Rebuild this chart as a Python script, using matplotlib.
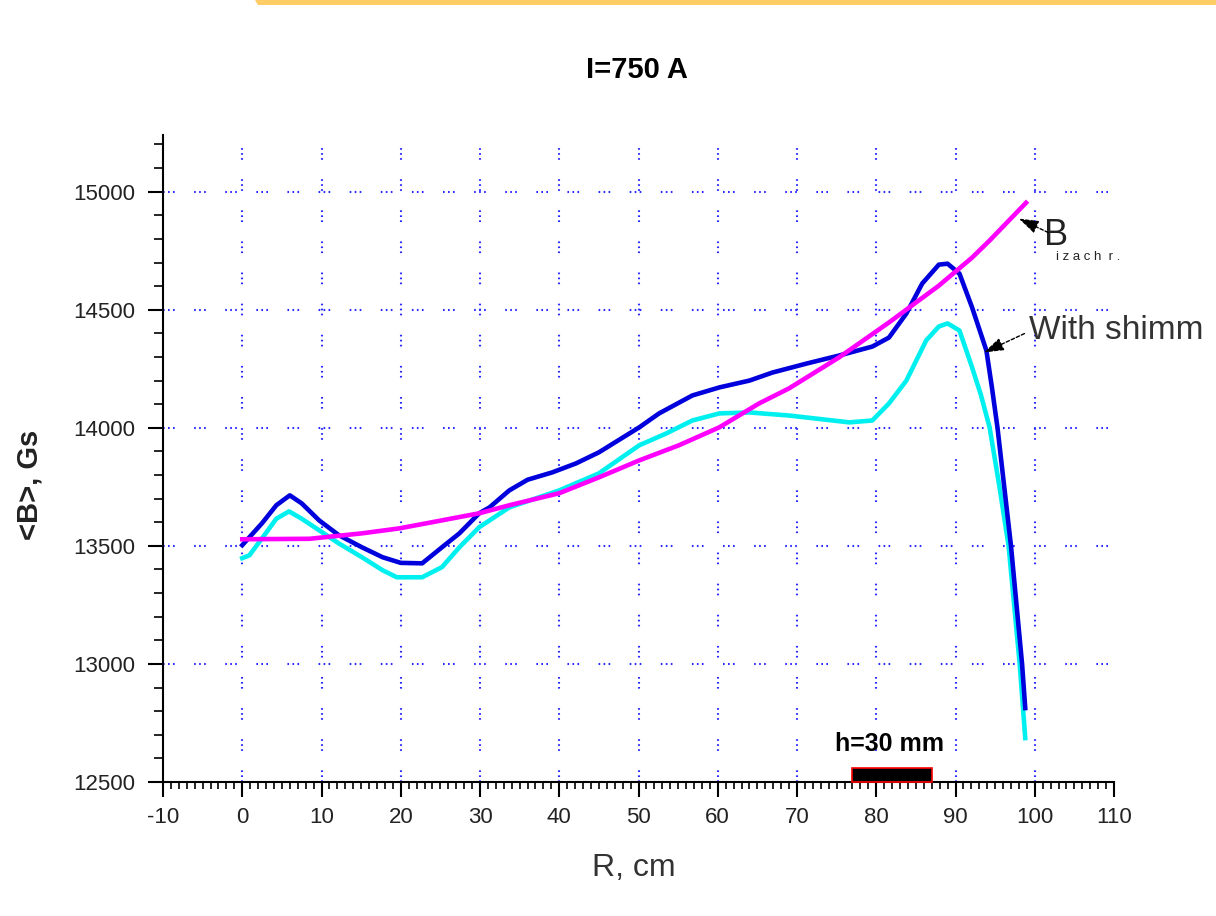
import numpy as np
import matplotlib
matplotlib.use('Agg')
import matplotlib.pyplot as plt
from matplotlib.patches import Rectangle, Polygon
from matplotlib.ticker import MultipleLocator

plt.rcParams['font.family'] = ['Liberation Sans', 'DejaVu Sans']
plt.rcParams['lines.scale_dashes'] = False

# blue curve - with shimm
r_shim = [0, 2.5, 4.3, 6, 7.5, 9.7, 12.2, 15.1, 17.7, 20, 22.7, 25.2, 27.4, 29.9, 31.2,
          33.7, 36, 39.1, 42.1, 45, 50.1, 52.6, 56.8, 60.2, 64, 66.9, 71.2, 75.3, 79.5,
          81.6, 83.8, 85.8, 87.9, 89, 90.5, 92.1, 93.9, 94.6, 95.3, 97.0, 98.4, 98.8]
b_shim = [13503, 13596, 13672, 13714, 13680, 13608, 13545, 13494, 13452, 13428, 13426,
          13494, 13553, 13638, 13663, 13735, 13780, 13811, 13849, 13896, 14002, 14061,
          14137, 14171, 14200, 14234, 14272, 14306, 14344, 14382, 14484, 14611, 14691,
          14695, 14653, 14509, 14327, 14170, 14000, 13500, 13000, 12813]

# cyan curve
r_cyan = [0, 0.9, 2.5, 4.3, 5.9, 7.5, 9.7, 12.2, 15.1, 17.7, 19.5, 22.7, 25.2, 27.4,
          29.9, 33.7, 40, 45, 50.1, 53.5, 56.8, 60.2, 64, 69, 76.6, 79.5, 81.6, 83.8,
          86.3, 87.9, 89, 90.5, 92.1, 93.2, 94.3, 95.5, 96.7, 98.1, 98.8]
b_cyan = [13448, 13460, 13532, 13615, 13646, 13615, 13566, 13510, 13452, 13397, 13367,
          13367, 13410, 13494, 13579, 13663, 13735, 13807, 13926, 13976, 14031, 14061,
          14065, 14052, 14023, 14031, 14103, 14200, 14370, 14429, 14442, 14412, 14255,
          14140, 14002, 13760, 13500, 13000, 12686]

# magenta curve - B izachr.
r_iz = [0, 8.5, 15.1, 19.8, 25.2, 29.9, 33.7, 40, 45, 50.1, 55.1, 60.2, 65.2, 69, 75.3,
        81.6, 87.9, 92.1, 94.3, 98.9]
b_iz = [13528, 13530, 13553, 13574, 13608, 13638, 13672, 13723, 13790, 13862, 13926,
        14002, 14103, 14167, 14298, 14446, 14602, 14721, 14793, 14953]

xticks = list(range(-10, 111, 10))
yticks = [12500, 13000, 13500, 14000, 14500, 15000]

fig = plt.figure(figsize=(12.16, 9.16), dpi=100)
ax = fig.add_axes([163/1216, 1-782/916, (1114-163)/1216, (782-135)/916])

ax.set_xlim(-10, 110)
ax.set_ylim(12500, 15240)

grid_kw = dict(color='#2a2aff', lw=1.5, zorder=1,
               linestyle=(0, (1.2, 2.4, 1.2, 2.4, 1.2, 14)))
for x in range(0, 101, 10):
    ax.axvline(x, **grid_kw)
for y in yticks[1:]:
    ax.axhline(y, **grid_kw)

ax.plot(r_cyan, b_cyan, color='#00f0f0', lw=3.3, zorder=3, solid_joinstyle='round')
ax.plot(r_shim, b_shim, color='#0000dd', lw=3.3, zorder=4, solid_joinstyle='round')
ax.plot(r_iz, b_iz, color='#ff00ff', lw=3.3, zorder=5, solid_joinstyle='round')

for s in ['top', 'right']:
    ax.spines[s].set_visible(False)
for s in ['left', 'bottom']:
    ax.spines[s].set_linewidth(1.5)

ax.set_xticks(xticks)
ax.set_xticklabels([str(t) for t in xticks])
ax.set_yticks(yticks)
ax.set_yticklabels([str(t) for t in yticks])
ax.xaxis.set_minor_locator(MultipleLocator(1))
ax.yaxis.set_minor_locator(MultipleLocator(100))
ax.tick_params(which='major', length=11, width=1.5, colors='black', labelcolor='#222222',
               labelsize=16, direction='out')
ax.tick_params(which='minor', length=5, width=1.2, direction='out')
ax.tick_params(axis='y', which='major', pad=9)
ax.tick_params(axis='y', which='minor', length=6.5)
ax.tick_params(axis='x', which='major', pad=7)

fig.text(634/1216, 1-868/916, 'R, cm', fontsize=23, color='#333333',
         ha='center', va='center')
fig.text(30/1216, 1-485/916, '<B>, Gs', fontsize=21, fontweight='bold', color='#222222',
         rotation=90, ha='center', va='center')

fig.text(637/1216, 1-70/916, 'I=750 A', fontsize=21, fontweight='bold',
         ha='center', va='center')

# h = 30 mm marker
ax.add_patch(Rectangle((77, 12500), 10, 60, facecolor='black', edgecolor='red',
                       lw=1.2, zorder=6, clip_on=False))
ax.text(81.7, 12660, 'h=30 mm', fontsize=18, fontweight='bold', ha='center', va='center')

arrow = dict(arrowstyle='-|>,head_length=1.2,head_width=0.4', color='black', lw=1,
             linestyle=(0, (2.5, 1.5)), shrinkA=0, shrinkB=0)
ax.annotate('', xy=(98.0, 14886), xytext=(101.7, 14827), arrowprops=arrow, zorder=7,
            annotation_clip=False)
ax.text(101.2, 14814, 'B', fontsize=26, color='#222222', ha='left', va='center',
        clip_on=False)
ax.text(102.7, 14725, 'i z a c h  r .', fontsize=9.5, color='#222222', ha='left',
        va='center', clip_on=False)
ax.annotate('', xy=(93.6, 14319), xytext=(98.7, 14399), arrowprops=arrow, zorder=7,
            annotation_clip=False)
ax.text(99.3, 14412, 'With shimm', fontsize=24, color='#333333', ha='left', va='center',
        clip_on=False)

# yellow strip at top
fig.patches.append(Polygon([[255/1216, 1], [1, 1], [1, 1-5/916], [258/1216, 1-5/916]],
                           closed=True, transform=fig.transFigure, facecolor='#ffcc66',
                           edgecolor='none'))

fig.savefig('out.png', dpi=100)
